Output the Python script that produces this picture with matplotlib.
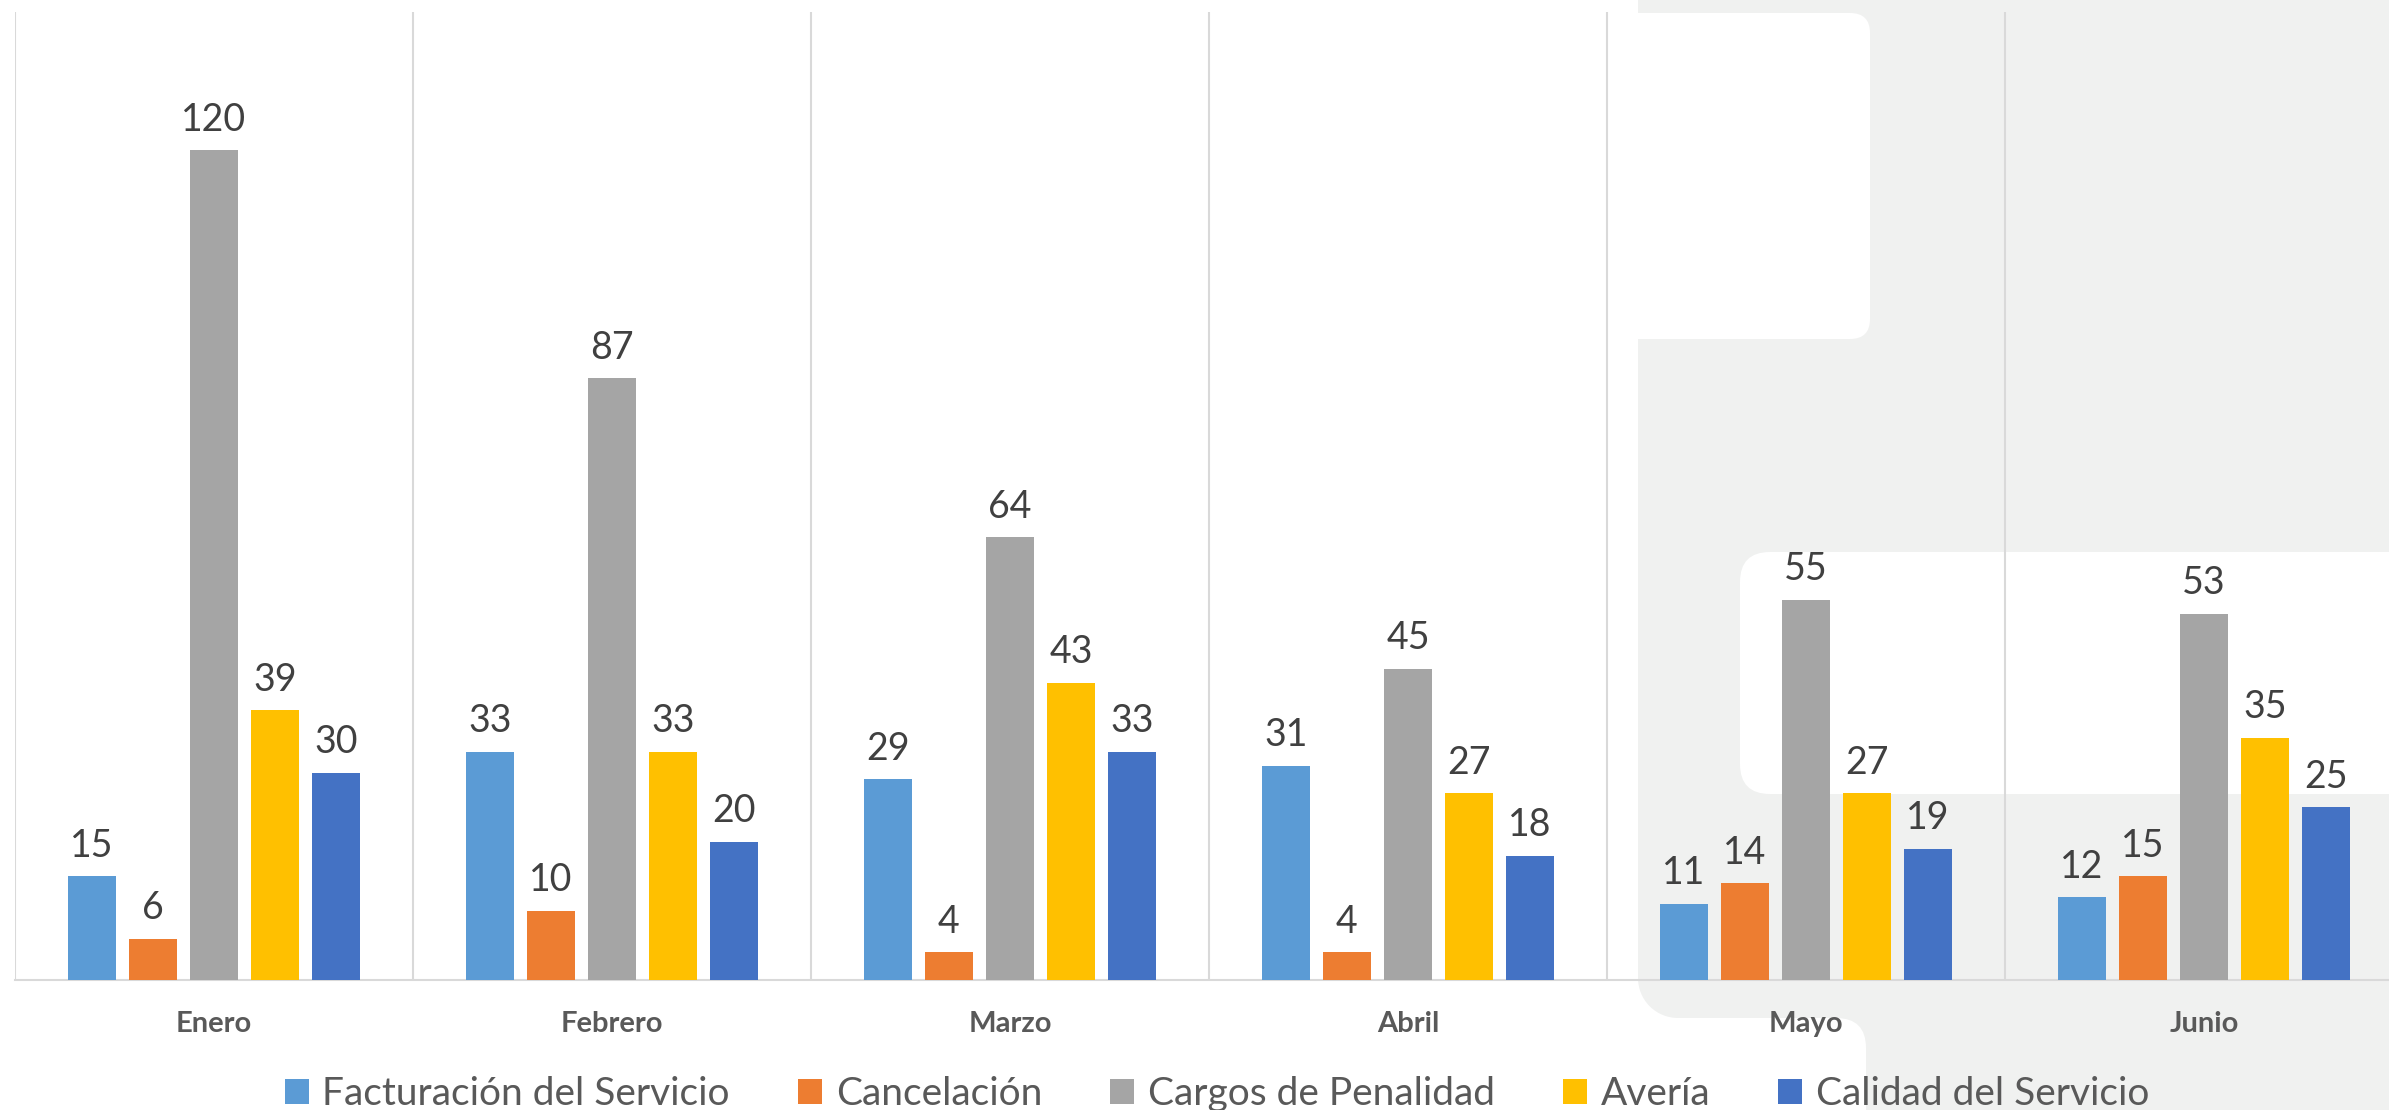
import numpy as np
import matplotlib
matplotlib.use("Agg")
import matplotlib.pyplot as plt
from matplotlib.patches import Rectangle, FancyBboxPatch, Circle
from matplotlib.transforms import IdentityTransform

months = ["Enero", "Febrero", "Marzo", "Abril", "Mayo", "Junio"]
series = ["Facturación del Servicio", "Cancelación", "Cargos de Penalidad",
          "Avería", "Calidad del Servicio"]
facturacion = [15, 33, 29, 31, 11, 12]
cancelacion = [6, 10, 4, 4, 14, 15]
penalidad = [120, 87, 64, 45, 55, 53]
averia = [39, 33, 43, 27, 27, 35]
calidad = [30, 20, 33, 18, 19, 25]
values = [facturacion, cancelacion, penalidad, averia, calidad]
colors = ["#5B9BD5", "#ED7D31", "#A5A5A5", "#FFC000", "#4472C4"]

plt.rcParams['font.family'] = ['Lato', 'DejaVu Sans']

W, H = 2389, 1110
fig = plt.figure(figsize=(W / 100, H / 100), dpi=100)


def px_box(x0, y0, x1, y1, color, r=0, z=-5):
    # pixel box, y measured from the top of the picture
    tr = IdentityTransform()
    if r:
        p = FancyBboxPatch((x0, H - y1), x1 - x0, y1 - y0,
                           boxstyle=f"round,pad=0,rounding_size={r}",
                           fc=color, ec="none", transform=tr, zorder=z)
    else:
        p = Rectangle((x0, H - y1), x1 - x0, y1 - y0, fc=color, ec="none",
                      transform=tr, zorder=z)
    fig.add_artist(p)


# faint background logo shape
bg = "#f0f1f0"
px_box(1638, -50, 2600, 1200, bg, z=-10)
px_box(1638, 978, 1678, 1018, "white", z=-9)
fig.add_artist(Circle((1678, H - 978), 40, fc=bg, ec="none",
                      transform=IdentityTransform(), zorder=-8))
px_box(1400, 13, 1870, 339, "white", r=20, z=-7)
px_box(1400, 1018, 1866, 1300, "white", r=30, z=-7)
px_box(1740, 552, 2700, 794, "white", r=30, z=-7)

ax_left, ax_right = 15, 2403
ax_top, ax_bottom = 12, 980
ax = fig.add_axes([ax_left / W, (H - ax_bottom) / H,
                   (ax_right - ax_left) / W, (ax_bottom - ax_top) / H])
ax.set_facecolor("none")

x = np.arange(len(months))
width = 0.1206
step = 0.1533
for i, (name, vals, c) in enumerate(zip(series, values, colors)):
    bars = ax.bar(x + (i - 2) * step, vals, width, color=c, label=name, zorder=3)
    ax.bar_label(bars, padding=9, fontsize=27, color="#404040")

ax.set_xlim(-0.5, 5.5)
ax.set_ylim(0, 140)
ax.set_yticks([])
ax.set_xticks(x)
ax.set_xticklabels(months, fontsize=21, fontweight="bold", color="#595959")
ax.tick_params(axis="x", which="both", length=0, pad=22)
ax.set_xticks(np.arange(-0.5, 6, 1), minor=True)
ax.grid(which="minor", axis="x", color="#d9d9d9", linewidth=1.5, zorder=0)
for s in ["top", "left", "right"]:
    ax.spines[s].set_visible(False)
ax.spines["bottom"].set_color("#d9d9d9")
ax.spines["bottom"].set_linewidth(1.5)

leg = ax.legend(loc="center", bbox_to_anchor=(1217 / W, 16 / H),
                bbox_transform=fig.transFigure, ncol=5, frameon=False,
                fontsize=28, handlelength=0.62, handleheight=0.62,
                handletextpad=0.35, columnspacing=1.75)
for t in leg.get_texts():
    t.set_color("#595959")

fig.savefig("out.png", dpi=100)
